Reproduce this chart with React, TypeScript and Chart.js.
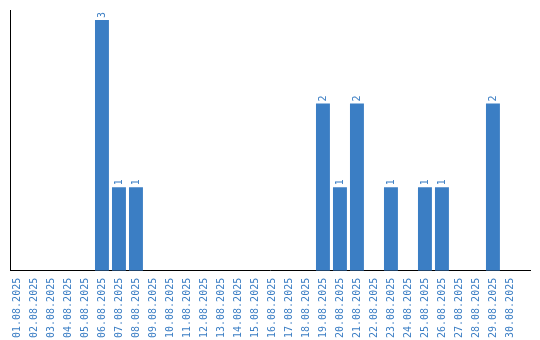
import React, { useEffect, useRef } from "react";
import { Chart, registerables } from "chart.js";

Chart.register(...registerables);

const dateLabels = [
  "01.08.2025", "02.08.2025", "03.08.2025", "04.08.2025", "05.08.2025",
  "06.08.2025", "07.08.2025", "08.08.2025", "09.08.2025", "10.08.2025",
  "11.08.2025", "12.08.2025", "13.08.2025", "14.08.2025", "15.08.2025",
  "16.08.2025", "17.08.2025", "18.08.2025", "19.08.2025", "20.08.2025",
  "21.08.2025", "22.08.2025", "23.08.2025", "24.08.2025", "25.08.2025",
  "26.08.2025", "27.08.2025", "28.08.2025", "29.08.2025", "30.08.2025",
];
const counts = [
  0, 0, 0, 0, 0,
  3, 1, 1, 0, 0,
  0, 0, 0, 0, 0,
  0, 0, 0, 2, 1,
  2, 0, 1, 0, 1,
  1, 0, 0, 2, 0,
];

const BLUE = "#3b7ec4";
const MONO = "'DejaVu Sans Mono', monospace";

const valueLabels = {
  id: "valueLabels",
  afterDatasetsDraw(chart: any) {
    const ctx = chart.ctx;
    const meta = chart.getDatasetMeta(0);
    ctx.save();
    ctx.fillStyle = BLUE;
    ctx.font = `10px ${MONO}`;
    ctx.textAlign = "left";
    ctx.textBaseline = "middle";
    meta.data.forEach((el: any, i: number) => {
      const v = counts[i];
      if (!v) return;
      ctx.save();
      ctx.translate(el.x, el.y - 2);
      ctx.rotate(-Math.PI / 2);
      ctx.fillText(String(v), 0, 0);
      ctx.restore();
    });
    ctx.restore();
  },
};

export default function App() {
  const ref = useRef<HTMLCanvasElement>(null);
  useEffect(() => {
    if (!ref.current) return;
    const chart = new Chart(ref.current, {
      type: "bar",
      data: {
        datasets: [
          {
            data: counts.map((c, i) => ({ x: i + 1, y: c })),
            backgroundColor: BLUE,
            borderWidth: 0,
            categoryPercentage: 0.82,
            barPercentage: 1,
          },
        ],
      },
      options: {
        animation: false,
        responsive: true,
        maintainAspectRatio: false,
        layout: { padding: { left: 10, top: 10, right: 10, bottom: -5 } },
        plugins: { legend: { display: false }, tooltip: { enabled: false } },
        scales: {
          x: {
            type: "linear",
            bounds: "data",
            offset: false,
            min: 0.59,
            max: 31.18,
            afterBuildTicks: (scale: any) => {
              scale.ticks = dateLabels.map((_, i) => ({ value: i + 1 }));
            },
            grid: { display: false, drawTicks: false, offset: false },
            border: { display: true, color: "#000", width: 1 },
            ticks: {
              autoSkip: false,
              maxRotation: 90,
              minRotation: 90,
              padding: 7,
              color: BLUE,
              font: { family: MONO, size: 10 },
              callback: (v: any) => dateLabels[Math.round(Number(v)) - 1] ?? "",
            },
          },
          y: {
            min: 0,
            max: 3.12,
            grid: { display: false, drawTicks: false },
            border: { display: true, color: "#000", width: 1 },
            ticks: { display: false },
          },
        },
      },
      plugins: [valueLabels],
    });
    return () => chart.destroy();
  }, []);
  return (
    <div style={{ position: "fixed", left: 0, top: 0, width: 540, height: 340 }}>
      <canvas ref={ref} />
    </div>
  );
}
